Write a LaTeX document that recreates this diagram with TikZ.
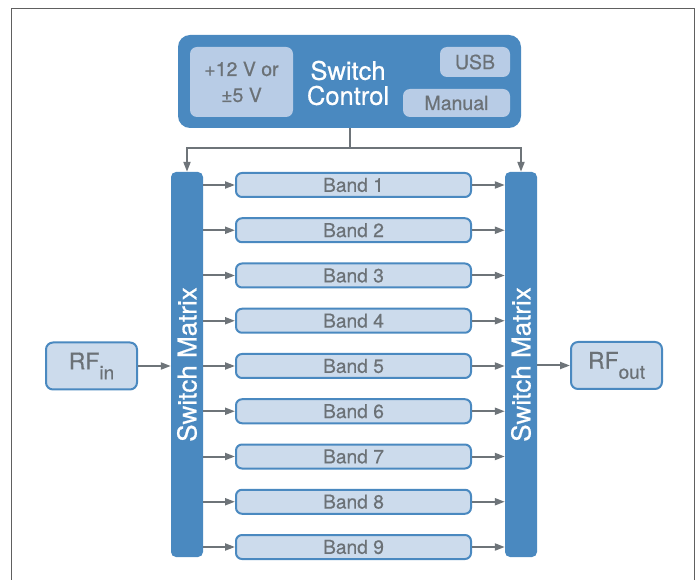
\documentclass[tikz,border=0pt]{standalone}
\usepackage{fontspec}
\setmainfont{TeX Gyre Heros}[BoldFont={TeX Gyre Heros},BoldFeatures={FakeBold=0.6}]
\usetikzlibrary{arrows.meta}
\definecolor{dblue}{HTML}{4A89C0}
\definecolor{lblue}{HTML}{CCDBEC}
\definecolor{iblue}{HTML}{B8CCE6}
\definecolor{tgray}{HTML}{6B7176}
\definecolor{agray}{HTML}{6E7479}
\definecolor{fgray}{HTML}{606060}
\begin{document}
\begin{tikzpicture}[x=1pt,y=-1pt,
  bandbox/.style={draw=dblue, line width=2pt, fill=lblue, rounded corners=6pt,
    minimum width=235pt, minimum height=24pt, inner sep=0pt, text=tgray,
    font=\fontsize{19.2}{22}\selectfont\bfseries},
  rfbox/.style={draw=dblue, line width=2pt, fill=lblue, rounded corners=7pt,
    minimum width=91pt, minimum height=47pt, inner sep=0pt, text=tgray,
    font=\fontsize{23}{24}\selectfont\bfseries},
  matbox/.style={fill=dblue, rounded corners=5pt, minimum width=32pt,
    minimum height=385pt, inner sep=0pt},
  mattext/.style={rotate=90, text=white, font=\fontsize{26}{28}\selectfont\bfseries, inner sep=0pt},
  ctrlbox/.style={fill=dblue, rounded corners=12pt, minimum width=343pt,
    minimum height=93pt, inner sep=0pt},
  innerbox/.style={fill=iblue, rounded corners=7pt, inner sep=0pt, text=tgray,
    font=\fontsize{19.5}{26}\selectfont\bfseries, align=center},
  ctrltext/.style={text=white, font=\fontsize{25.5}{25}\selectfont\bfseries, align=center, inner sep=0pt},
  arr/.style={draw=agray, line width=2pt, -{Triangle[length=10pt,width=7pt]}},
  ln/.style={draw=agray, line width=2pt},
  frame/.style={draw=fgray, line width=1.5pt}
]
\useasboundingbox (0,0) rectangle (697,580);
\fill[white] (0,0) rectangle (697,580);
% frame
\draw[frame] (11.3,580) -- (11.3,8.5) -- (694.3,8.5) -- (694.3,580);

% switch control
\node[ctrlbox] (sc) at (349.5,81.5) {};
\node[innerbox, minimum width=103pt, minimum height=70pt] (pwr) at (241.5,82) {+12 V or\\±5 V};
\node[innerbox, minimum width=70pt, minimum height=30pt] (usb) at (475,62) {USB};
\node[innerbox, minimum width=107pt, minimum height=28pt] (man) at (456.5,103) {Manual};
\node[ctrltext] (sct) at (348,83) {Switch\\Control};

% switch matrices
\node[matbox] (lm) at (187,364.5) {};
\node[mattext] (lmt) at (lm) {Switch Matrix};
\node[matbox] (rm) at (521,364.5) {};
\node[mattext] (rmt) at (rm) {Switch Matrix};

% RF boxes
\node[rfbox] (rfin) at (91.5,366) {RF\raisebox{-10pt}{\fontsize{19}{20}\selectfont\bfseries in}};
\node[rfbox] (rfout) at (616.5,365.5) {RF\raisebox{-10pt}{\fontsize{19}{20}\selectfont\bfseries out}};

% bands
\foreach \i in {1,...,9} {
  \node[bandbox] (b\i) at (353.5,{185+45.25*(\i-1)}) {Band \i};
  \draw[arr] (lm.east |- b\i.west) -- (b\i.west);
  \draw[arr] (b\i.east) -- (rm.west |- b\i.east);
}

% RF connections
\draw[arr] (rfin.east) -- (lm.west |- rfin.east);
\draw[arr] (rm.east |- rfout.west) -- (rfout.west);

% control connections
\coordinate (jn) at (349.5,148);
\draw[ln] (sc.south) -- (jn);
\draw[arr] (jn) -| (lm.north);
\draw[arr] (jn) -| (rm.north);
\end{tikzpicture}
\end{document}
